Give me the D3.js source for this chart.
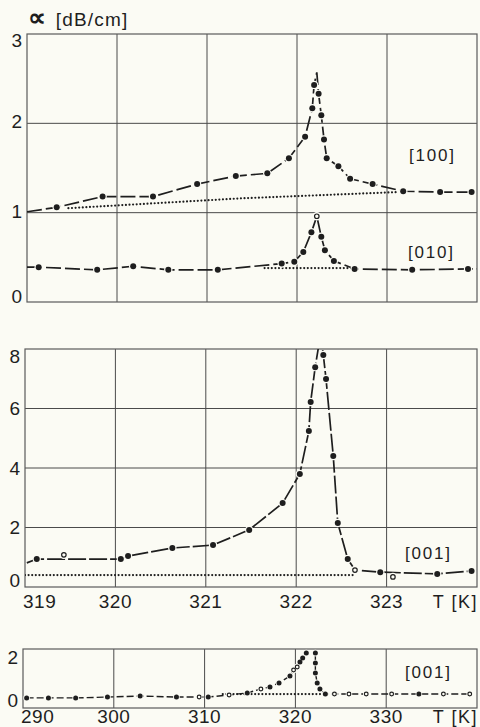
<!DOCTYPE html>
<html>
<head>
<meta charset="utf-8">
<script src="https://cdn.jsdelivr.net/npm/d3@7"></script>
<style>
  body { margin: 0; background: #fbfbf4; }
  svg { display: block; font-family: "Liberation Sans", Arial, sans-serif; }
  text { fill: #1e1e1e; }
</style>
</head>
<body>
<div id="chart"></div>
<script>
// ---- data ----
// kind per point: f = filled dot on curve, o = open dot on curve, n = curve vertex only,
//                 O = open marker off the curve, b = break in the curve

// panel 1, [100]
const t100 = [319.0, 319.33, 319.84, 320.40, 320.89, 321.32, 321.67, 321.91, 322.09, 322.17, 322.19, 322.22, 322.24, 322.27, 322.30, 322.33, 322.46, 322.59, 322.84, 323.18, 323.59, 323.94];
const a100 = [1.01, 1.06, 1.18, 1.18, 1.32, 1.41, 1.44, 1.61, 1.85, 2.17, 2.43, 2.57, 2.33, 2.09, 1.82, 1.61, 1.52, 1.38, 1.32, 1.24, 1.23, 1.23];
const k100 = ["n","f","f","f","f","f","f","f","f","f","f","n","f","f","f","f","f","f","f","f","f","f"];
const base100T = [319.46, 321.37, 323.11];
const base100A = [1.05, 1.16, 1.23];

// panel 1, [010]
const t010 = [319.0, 319.13, 319.78, 320.18, 320.57, 321.12, 321.83, 321.97, 322.07, 322.16, 322.22, 322.27, 322.31, 322.41, 322.64, 323.28, 323.90, 324.0];
const a010 = [0.39, 0.39, 0.36, 0.40, 0.36, 0.36, 0.43, 0.45, 0.56, 0.78, 0.96, 0.73, 0.58, 0.46, 0.37, 0.36, 0.37, 0.37];
const k010 = ["n","f","f","f","f","f","f","f","f","f","o","f","f","f","f","f","f","n"];
const base010T = [321.64, 322.64];
const base010A = [0.38, 0.38];

// panel 2, [001] close to the transition
const t001 = [319.02, 319.13, 319.43, 320.06, 320.14, 320.63, 321.08, 321.48, 321.85, 322.04, 322.14, 322.16, 322.21, 322.27, 322.30, 322.33, 322.41, 322.46, 322.57, 322.65, 322.93, 323.07, 323.56, 323.94];
const a001 = [0.81, 0.94, 1.08, 0.94, 1.04, 1.31, 1.41, 1.92, 2.82, 3.80, 5.24, 6.22, 7.39, 8.50, 7.80, 6.99, 4.40, 2.15, 0.94, 0.57, 0.50, 0.34, 0.44, 0.54];
const k001 = ["n","f","O","f","f","f","f","f","f","f","f","f","f","n","f","f","f","f","f","o","f","O","f","f"];
const base001T = [319.0, 322.65];
const base001A = [0.40, 0.40];

// panel 3, [001] wide range
const tWide = [290.4, 292.8, 295.8, 299.3, 302.9, 306.9, 309.4, 310.4, 312.7, 314.7, 316.2, 317.2, 318.2, 319.4, 319.8, 320.2, 320.5, 320.8, 321.2, 321.7, 322.2, 322.2, 322.2, 322.4, 322.7, 323.3, 324.3, 325.9, 327.8, 330.6, 333.6, 336.3, 339.2];
const aWide = [0.05, 0.05, 0.05, 0.09, 0.14, 0.09, 0.09, 0.09, 0.19, 0.28, 0.47, 0.56, 0.75, 1.07, 1.35, 1.49, 1.72, 1.91, 2.14, 0, 2.14, 1.68, 1.21, 0.75, 0.47, 0.23, 0.23, 0.23, 0.23, 0.23, 0.23, 0.23, 0.23];
const kWide = ["f","f","f","f","f","f","o","f","o","f","o","f","f","f","o","o","f","f","f","b","f","f","f","f","f","f","o","o","o","o","f","o","o"];
const baseWideT = [312.0, 323.3];
const baseWideA = [0.23, 0.23];

// axes
const ticks1Y = [0, 1, 2, 3];
const ticks2Y = [0, 2, 4, 6, 8];
const ticks3Y = [0, 2];
const ticksT = [319, 320, 321, 322, 323];
const ticksWide = [290, 300, 310, 320, 330];

const W = 480, H = 727;
const bg = "#fbfbf4", ink = "#1e1e1e";

const svg = d3.select("#chart").append("svg")
  .attr("width", W).attr("height", H);
svg.append("rect").attr("width", W).attr("height", H).attr("fill", bg);

function panel(opt) {
  const x = d3.scaleLinear().domain(opt.xDomain).range([opt.left, opt.right]);
  const y = d3.scaleLinear().domain(opt.yDomain).range([opt.bottom, opt.top]);
  const g = svg.append("g");
  const clipId = "clip" + opt.id;
  g.append("clipPath").attr("id", clipId).append("rect")
    .attr("x", opt.left).attr("y", opt.top)
    .attr("width", opt.right - opt.left).attr("height", opt.bottom - opt.top);

  // grid
  g.selectAll(".vg").data(opt.xGrid).enter().append("line")
    .attr("x1", d => x(d)).attr("x2", d => x(d))
    .attr("y1", opt.top).attr("y2", opt.bottom)
    .attr("stroke", "#4a4a4a").attr("stroke-width", 1);
  g.selectAll(".hg").data(opt.yGrid).enter().append("line")
    .attr("y1", d => y(d)).attr("y2", d => y(d))
    .attr("x1", opt.left).attr("x2", opt.right)
    .attr("stroke", "#4a4a4a").attr("stroke-width", 1);
  g.append("rect")
    .attr("x", opt.left).attr("y", opt.top)
    .attr("width", opt.right - opt.left).attr("height", opt.bottom - opt.top)
    .attr("fill", "none").attr("stroke", "#5a5a5a").attr("stroke-width", 1.2);

  // y tick labels
  g.selectAll(".yl").data(opt.yTicks).enter().append("text")
    .attr("x", opt.left - 5)
    .attr("y", d => y(d) + opt.yLabelShift(d))
    .attr("dy", "0.36em")
    .attr("text-anchor", "end")
    .style("font-size", "19px")
    .text(d => d);

  // x tick labels
  if (opt.xTicks) {
    g.selectAll(".xl").data(opt.xTicks).enter().append("text")
      .attr("x", (d, i) => i === 0 ? opt.left - 2 : x(d))
      .attr("y", opt.xLabelY)
      .attr("text-anchor", (d, i) => i === 0 ? "start" : "middle")
      .style("font-size", "19px")
      .style("letter-spacing", "0.5px")
      .text(d => d);
    g.append("text")
      .attr("x", opt.right + 1).attr("y", opt.xLabelY)
      .attr("text-anchor", "end")
      .style("font-size", "18px")
      .style("letter-spacing", "1.5px")
      .text("T [K]");
  }

  const plot = g.append("g").attr("clip-path", "url(#" + clipId + ")");
  return { x, y, g, plot };
}

function baseline(p, T, A) {
  const pts = T.map((t, i) => [p.x(t), p.y(A[i])]);
  p.plot.append("path")
    .attr("d", d3.line()(pts))
    .attr("fill", "none").attr("stroke", ink)
    .attr("stroke-width", 2.2)
    .attr("stroke-linecap", "round")
    .attr("stroke-dasharray", "0,3.6");
}

function series(p, T, A, K, st) {
  const pts = T.map((t, i) => ({ t: t, a: A[i], k: K[i] }));
  const onCurve = pts.filter(d => d.k === "f" || d.k === "o" || d.k === "n" || d.k === "b");
  const line = d3.line()
    .defined(d => d.k !== "b")
    .x(d => p.x(d.t)).y(d => p.y(d.a));
  p.plot.append("path")
    .attr("d", line(onCurve))
    .attr("fill", "none").attr("stroke", ink)
    .attr("stroke-width", st.width)
    .attr("stroke-dasharray", st.dash);
  const marks = pts.filter(d => d.k !== "n" && d.k !== "b");
  const isOpen = d => d.k === "o" || d.k === "O";
  // small gap in the curve round each marker
  p.plot.selectAll(null).data(marks).enter().append("circle")
    .attr("cx", d => p.x(d.t)).attr("cy", d => p.y(d.a))
    .attr("r", st.r + st.halo)
    .attr("fill", bg);
  p.plot.selectAll(null).data(marks).enter().append("circle")
    .attr("cx", d => p.x(d.t)).attr("cy", d => p.y(d.a))
    .attr("r", d => isOpen(d) ? st.r * 0.75 : st.r)
    .attr("fill", d => isOpen(d) ? bg : ink)
    .attr("stroke", d => isOpen(d) ? ink : "none")
    .attr("stroke-width", 1.2);
}

function label(x, y, s) {
  svg.append("text").attr("x", x).attr("y", y)
    .style("font-size", "17px")
    .style("letter-spacing", "1.8px")
    .text(s);
}

// ---- panel 1 : [100] and [010] ----
const p1 = panel({
  id: 1, left: 27, right: 477, top: 34, bottom: 302,
  xDomain: [319, 324], yDomain: [0, 3],
  xGrid: [320, 321, 322, 323], yGrid: [1, 2],
  yTicks: ticks1Y,
  yLabelShift: d => d === 3 ? 6 : (d === 0 ? -6 : -2)
});
baseline(p1, base100T, base100A);
baseline(p1, base010T, base010A);
series(p1, t100, a100, k100, { width: 1.7, dash: "15,4", r: 3, halo: 1.2 });
series(p1, t010, a010, k010, { width: 1.7, dash: "15,4", r: 3, halo: 1.2 });

const unit = svg.append("text").attr("x", 28).attr("y", 26)
  .style("font-size", "19px")
  .style("letter-spacing", "1.2px");
unit.append("tspan").style("font-size", "25px").style("font-weight", "bold").text("\u221D");
unit.append("tspan").attr("dx", 2).text(" [dB/cm]");
label(409, 161, "[100]");
label(408, 258, "[010]");

// ---- panel 2 : [001] close to the transition ----
const p2 = panel({
  id: 2, left: 25, right: 477, top: 349, bottom: 587,
  xDomain: [319, 324], yDomain: [0, 8],
  xGrid: [320, 321, 322, 323], yGrid: [2, 4, 6],
  yTicks: ticks2Y,
  yLabelShift: d => d === 8 ? 7 : (d === 0 ? -7 : 0),
  xTicks: ticksT, xLabelY: 608
});
baseline(p2, base001T, base001A);
series(p2, t001, a001, k001, { width: 1.7, dash: "18,3", r: 3, halo: 1.2 });
label(405, 559, "[001]");

// ---- panel 3 : [001] over a wide range ----
const p3 = panel({
  id: 3, left: 23, right: 477, top: 649, bottom: 708,
  xDomain: [290, 340], yDomain: [-0.42, 2.33],
  xGrid: [300, 310, 320, 330], yGrid: [],
  yTicks: ticks3Y,
  yLabelShift: d => 1,
  xTicks: ticksWide, xLabelY: 723
});
baseline(p3, baseWideT, baseWideA);
series(p3, tWide, aWide, kWide, { width: 1.4, dash: "7,3", r: 2.5, halo: 0.8 });
label(405, 678, "[001]");
</script>
</body>
</html>
